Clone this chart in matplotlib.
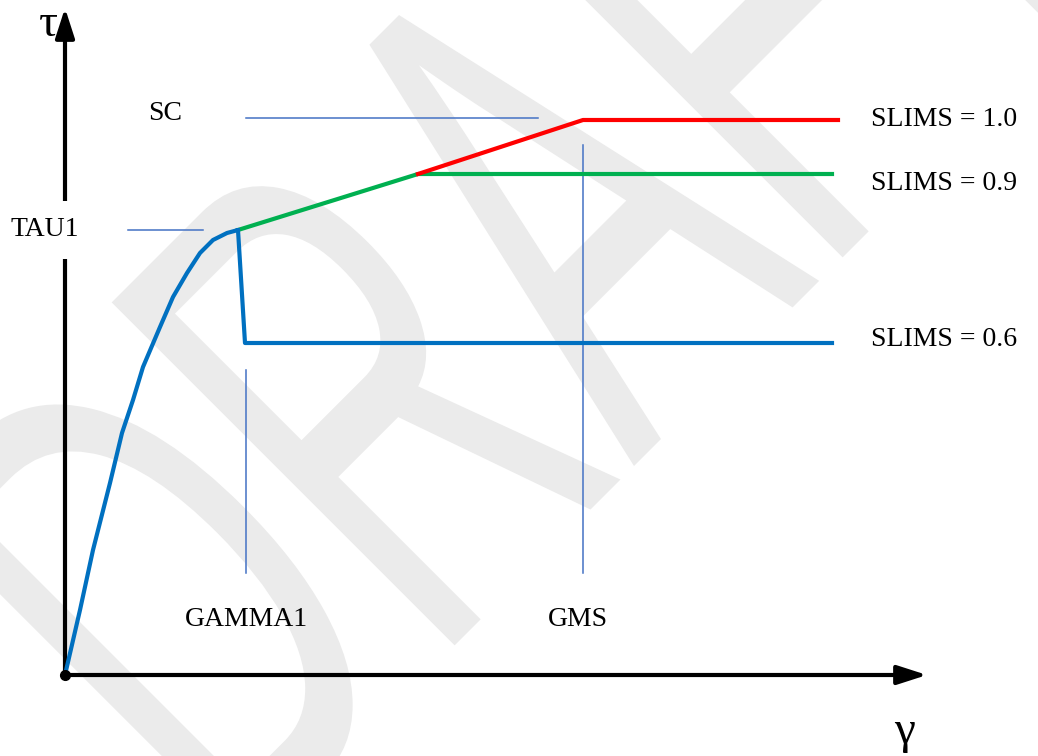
import numpy as np
import matplotlib.pyplot as plt
from matplotlib.textpath import TextPath
from matplotlib.font_manager import FontProperties
from matplotlib.patches import PathPatch
from matplotlib.transforms import Affine2D

# schematic tau-gamma curve (units: gamma to the right, tau up, origin at 0,0)
rise_gamma = [0, 15, 28, 45, 57, 68, 78, 95, 108, 122, 135, 148, 162, 173]
rise_tau = [0, 65, 125, 192, 242, 275, 308, 348, 378, 402, 422, 435, 442, 445]

slims06_gamma = [173, 180, 767]
slims06_tau = [445, 332, 332]
slims09_gamma = [173, 353, 767]
slims09_tau = [445, 501, 501]
slims10_gamma = [353, 518, 773]
slims10_tau = [501, 555, 555]

# thin guide lines
sc_tau, sc_gamma = 557, (181, 473)
tau1_tau, tau1_gamma = 445, (63, 138)
gamma1_gamma, gamma1_tau = 181, (102, 305)
gms_gamma, gms_tau = 518, (102, 530)

slims_labels = ['SLIMS = 1.0', 'SLIMS = 0.9', 'SLIMS = 0.6']
slims_label_tau = [555, 492, 335]

BLUE = '#0070C0'
GREEN = '#00B050'
RED = '#FF0000'
GUIDE = '#4472C4'
serif = 'Liberation Serif'

fig = plt.figure(figsize=(10.38, 7.56), dpi=100)
ax = fig.add_axes([0, 0, 1, 1])
ax.set_xlim(-65, 973)
ax.set_ylim(-81, 675)
ax.axis('off')

# DRAFT watermark (stretched text, rotated 45 deg)
wm = TextPath((0, 0), 'DRAFT', size=1, prop=FontProperties(family='Liberation Sans'))
wm_tr = Affine2D().scale(395, 705).rotate_deg(45).translate(165, -195)
ax.add_patch(PathPatch(wm_tr.transform_path(wm), facecolor='#EBEBEB',
                       edgecolor='none', zorder=0))

# axes arrows
arrow = dict(arrowstyle='-|>,head_length=1.8,head_width=0.58', lw=3,
             color='black', mutation_scale=10, shrinkA=0, shrinkB=0)
ax.annotate('', xy=(0, 667), xytext=(0, 0), arrowprops=arrow, zorder=3)
ax.annotate('', xy=(862, 0), xytext=(0, 0), arrowprops=arrow, zorder=3)
ax.plot([0], [0], 'o', color='black', ms=7, zorder=6)

# guide lines
ax.plot(sc_gamma, [sc_tau, sc_tau], color=GUIDE, lw=1.1, zorder=2)
ax.plot(tau1_gamma, [tau1_tau, tau1_tau], color=GUIDE, lw=1.1, zorder=2)
ax.plot([gamma1_gamma, gamma1_gamma], gamma1_tau, color=GUIDE, lw=1.1, zorder=2)
ax.plot([gms_gamma, gms_gamma], gms_tau, color=GUIDE, lw=1.1, zorder=2)

# curves
ax.plot(slims09_gamma, slims09_tau, color=GREEN, lw=3, zorder=4)
ax.plot(slims10_gamma, slims10_tau, color=RED, lw=3, zorder=4)
ax.plot(slims06_gamma, slims06_tau, color=BLUE, lw=3, zorder=5)
ax.plot(rise_gamma, rise_tau, color=BLUE, lw=3, zorder=5,
        solid_joinstyle='round', solid_capstyle='round')

# labels
ax.text(100, 562, 'SC', family=serif, fontsize=20, ha='center', va='center')
ax.text(-20, 445, 'TAU1', family=serif, fontsize=20, ha='center', va='center',
        bbox=dict(facecolor='white', edgecolor='none', pad=12), zorder=4)
ax.text(181, 55, 'GAMMA1', family=serif, fontsize=20, ha='center', va='center')
ax.text(513, 55, 'GMS', family=serif, fontsize=20, ha='center', va='center')
for lab, t in zip(slims_labels, slims_label_tau):
    ax.text(806, t, lab, family=serif, fontsize=20, ha='left', va='center')

ax.text(-17, 650, 'τ', family=serif, fontsize=34, ha='center', va='center')
ax.text(840, -57, 'γ', family=serif, fontsize=34, ha='center', va='center')

fig.savefig('out.png', dpi=100)
